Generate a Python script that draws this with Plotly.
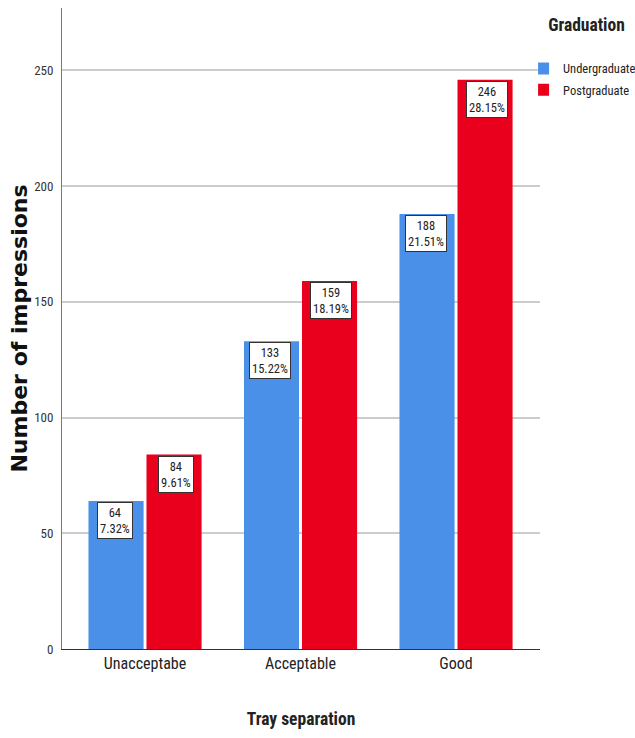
import plotly.graph_objects as go

categories = ["Unacceptabe", "Acceptable", "Good"]
undergrad = [64, 133, 188]
postgrad = [84, 159, 246]
undergrad_pct = ["7.32%", "15.22%", "21.51%"]
postgrad_pct = ["9.61%", "18.19%", "28.15%"]
y_ticks = [0, 50, 100, 150, 200, 250]

FONT = "Roboto Condensed, Roboto, sans-serif"

fig = go.Figure()
fig.add_trace(go.Bar(x=categories, y=undergrad, name="Undergraduate", legendgroup="u",
                     marker=dict(color="#4a90e8", line=dict(width=0))))
fig.add_trace(go.Bar(x=categories, y=postgrad, name="Postgraduate", legendgroup="p",
                     marker=dict(color="#e8001c", line=dict(width=0))))

for vals, pcts, shift in ((undergrad, undergrad_pct, -30.5), (postgrad, postgrad_pct, 30.5)):
    for c, v, p in zip(categories, vals, pcts):
        fig.add_annotation(x=c, y=v, xshift=shift, yshift=-1, yanchor="top",
                           text=f"{v}<br>{p}", showarrow=False,
                           font=dict(family=FONT, size=12.5, color="#222"),
                           bgcolor="white", bordercolor="#333", borderwidth=1,
                           borderpad=2)

fig.update_layout(
    width=635, height=738,
    margin=dict(l=62, r=95, t=8, b=89, autoexpand=False),
    paper_bgcolor="white", plot_bgcolor="white",
    barmode="group", bargap=0.254, bargroupgap=0.05,
    font=dict(family=FONT, color="#222"),
    legend=dict(x=0.996, y=0.9995, xanchor="left", yanchor="top",
                title=dict(text="&nbsp;&nbsp;<b>Graduation</b><br>",
                           font=dict(family=FONT, size=17.5)),
                font=dict(family=FONT, size=12.5), tracegroupgap=2,
                itemwidth=30, indentation=-15),
    xaxis=dict(range=[-0.534, 2.54], showline=True, linecolor="#333", linewidth=1,
               tickfont=dict(family=FONT, size=16), ticks="",
               title=dict(text="<b>Tray separation</b>", font=dict(family=FONT, size=17.5),
                          standoff=40)),
    yaxis=dict(range=[0, 277], tickvals=y_ticks, showline=True, linecolor="#777",
               linewidth=1, showgrid=True, gridcolor="#cccccc", gridwidth=1.5,
               zeroline=False, ticks="outside", ticklen=5, tickcolor="#fff",
               tickfont=dict(family=FONT, size=13, color="#333"),
               title=dict(text="<b>Number of impressions</b>",
                          font=dict(family="DejaVu Sans", size=22, color="#111"),
                          standoff=0)),
)

fig.write_html("out.html", config={"displayModeBar": False},
               post_script="document.body.style.margin='0';")
